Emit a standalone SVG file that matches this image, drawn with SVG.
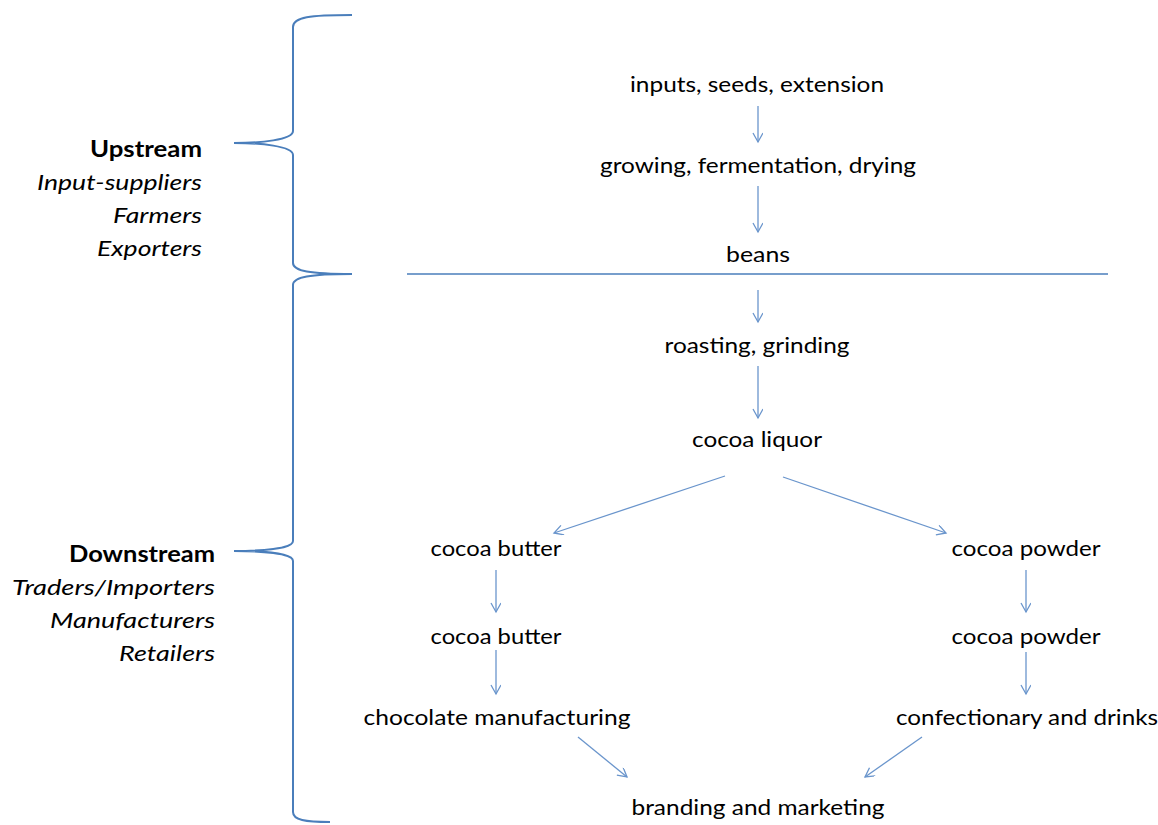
<svg xmlns="http://www.w3.org/2000/svg" width="1158" height="825" viewBox="0 0 1158 825">
<style>
text{font-family:Lato,"Open Sans","Liberation Sans",sans-serif;font-size:22px;fill:#000}
.c{text-anchor:middle}
.r{text-anchor:end}
.b{font-weight:bold}
.i{font-style:italic}
.brace{fill:none;stroke:#4a7ebb;stroke-width:2}
.arr{fill:none;stroke:#6a95cc;stroke-width:1.3;marker-end:url(#ah)}
.sep{stroke:#4a7ebb;stroke-width:1.6}
</style>
<defs>
<marker id="ah" markerWidth="14" markerHeight="14" refX="10" refY="5" orient="auto" markerUnits="userSpaceOnUse">
<path d="M1,0 L10,5 L1,10" fill="none" stroke="#6a95cc" stroke-width="1.3"/>
</marker>
</defs>
<g id="braces">
<path class="brace" d="M352,15 C310,15 293,17 293,27 L293,131 C293,140 260,143 234,143 C260,143 293,146 293,155 L293,263 C293,271 310,274 352,274 C310,274 293,277 293,285 L293,541 C293,549 260,551 234,551 C260,551 293,553 293,561 L293,812 C293,820 305,822 330,822"/>
<line class="sep" x1="407" y1="274" x2="1108" y2="274"/>
</g>
<g id="upstream-label">
<text class="r b" x="202" y="157" textLength="112" lengthAdjust="spacingAndGlyphs">Upstream</text>
<text class="r i" x="202" y="190" textLength="165" lengthAdjust="spacingAndGlyphs">Input-suppliers</text>
<text class="r i" x="202" y="223" textLength="89" lengthAdjust="spacingAndGlyphs">Farmers</text>
<text class="r i" x="202" y="256" textLength="105" lengthAdjust="spacingAndGlyphs">Exporters</text>
</g>
<g id="downstream-label">
<text class="r b" x="215" y="562" textLength="146" lengthAdjust="spacingAndGlyphs">Downstream</text>
<text class="r i" x="215" y="595" textLength="203" lengthAdjust="spacingAndGlyphs">Traders/Importers</text>
<text class="r i" x="215" y="628" textLength="165" lengthAdjust="spacingAndGlyphs">Manufacturers</text>
<text class="r i" x="215" y="661" textLength="96" lengthAdjust="spacingAndGlyphs">Retailers</text>
</g>
<g id="n-inputs"><text class="c" x="757" y="92" textLength="254" lengthAdjust="spacingAndGlyphs">inputs, seeds, extension</text></g>
<g id="n-growing"><text class="c" x="758" y="173" textLength="316" lengthAdjust="spacingAndGlyphs">growing, fermentation, drying</text></g>
<g id="n-beans"><text class="c" x="758" y="262" textLength="64" lengthAdjust="spacingAndGlyphs">beans</text></g>
<g id="n-roasting"><text class="c" x="757" y="353" textLength="185" lengthAdjust="spacingAndGlyphs">roasting, grinding</text></g>
<g id="n-liquor"><text class="c" x="757" y="447" textLength="130" lengthAdjust="spacingAndGlyphs">cocoa liquor</text></g>
<g id="n-butter1"><text class="c" x="496" y="556" textLength="131" lengthAdjust="spacingAndGlyphs">cocoa butter</text></g>
<g id="n-powder1"><text class="c" x="1026" y="556" textLength="149" lengthAdjust="spacingAndGlyphs">cocoa powder</text></g>
<g id="n-butter2"><text class="c" x="496" y="644" textLength="131" lengthAdjust="spacingAndGlyphs">cocoa butter</text></g>
<g id="n-powder2"><text class="c" x="1026" y="644" textLength="149" lengthAdjust="spacingAndGlyphs">cocoa powder</text></g>
<g id="n-choc"><text class="c" x="497" y="725" textLength="267" lengthAdjust="spacingAndGlyphs">chocolate manufacturing</text></g>
<g id="n-conf"><text class="c" x="1027" y="725" textLength="262" lengthAdjust="spacingAndGlyphs">confectionary and drinks</text></g>
<g id="n-brand"><text class="c" x="758" y="815" textLength="253" lengthAdjust="spacingAndGlyphs">branding and marketing</text></g>
<g id="connectors">
<line class="arr" x1="758" y1="106" x2="758" y2="142"/>
<line class="arr" x1="758" y1="186" x2="758" y2="232"/>
<line class="arr" x1="758" y1="290" x2="758" y2="322"/>
<line class="arr" x1="758" y1="366" x2="758" y2="418"/>
<line class="arr" x1="725" y1="476" x2="554" y2="533"/>
<line class="arr" x1="783" y1="477" x2="946" y2="533"/>
<line class="arr" x1="496" y1="570" x2="496" y2="612"/>
<line class="arr" x1="496" y1="650" x2="496" y2="694"/>
<line class="arr" x1="1026" y1="570" x2="1026" y2="612"/>
<line class="arr" x1="1026" y1="652" x2="1026" y2="694"/>
<line class="arr" x1="578" y1="737" x2="627" y2="777"/>
<line class="arr" x1="922" y1="737" x2="865" y2="777"/>
</g>
</svg>
